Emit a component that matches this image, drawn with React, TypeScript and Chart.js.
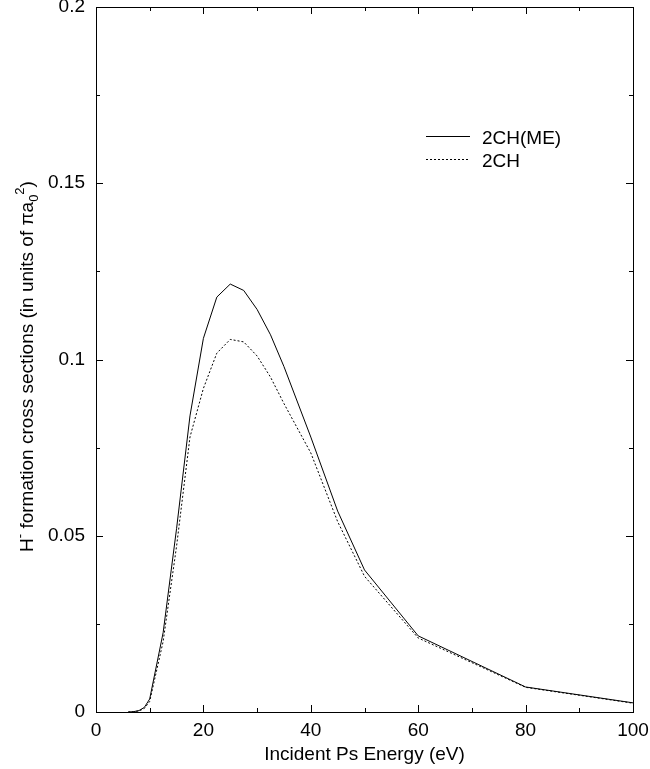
import React, { useEffect, useRef } from "react";
import { Chart, registerables } from "chart.js";

Chart.register(...registerables);

const energyME = [6, 7, 8, 9, 10, 12.5, 15, 17.5, 20, 22.5, 25, 27.5, 30, 32.5, 35, 40, 45, 50, 60, 80, 100];
const sigmaME = [0, 0.0001, 0.0004, 0.0013, 0.0037, 0.0225, 0.052, 0.084, 0.106, 0.1177, 0.1214, 0.1196, 0.1142, 0.107, 0.098, 0.078, 0.057, 0.0403, 0.0216, 0.0071, 0.0026];
const energy2CH = [6, 7, 8, 9, 10, 12.5, 15, 17.5, 20, 22.5, 25, 27.5, 30, 32.5, 35, 40, 45, 50, 60, 80, 100];
const sigma2CH = [0, 0.0001, 0.0003, 0.001, 0.003, 0.02, 0.047, 0.078, 0.0918, 0.1018, 0.1057, 0.105, 0.101, 0.095, 0.0875, 0.0735, 0.054, 0.0385, 0.021, 0.007, 0.0025];
const seriesLabels = ["2CH(ME)", "2CH"];
const xTicks = [0, 20, 40, 60, 80, 100];
const yTicks = [0, 0.05, 0.1, 0.15, 0.2];
const xTitle = "Incident Ps Energy (eV)";
// y title as segments: [text, kind] where kind: n = normal, sup = superscript, sub = subscript
const yTitleParts: [string, string][] = [
  ["H", "n"],
  ["-", "sup"],
  [" formation cross sections (in units of ", "n"],
  ["\u03C0", "n"],
  ["a", "n"],
  ["0", "sub"],
  ["2", "sup"],
  [")", "n"],
];

const FONT = "'Liberation Sans', Arial, sans-serif";
const FS = 19;

const framePlugin = {
  id: "frame",
  afterDraw(chart: any) {
    const { ctx, chartArea: a, scales } = chart;
    const xs = scales.x;
    const ys = scales.y;
    ctx.save();
    ctx.strokeStyle = "#000";
    ctx.lineWidth = 1;
    ctx.strokeRect(Math.round(a.left) + 0.5, Math.round(a.top) + 0.5, Math.round(a.right - a.left), Math.round(a.bottom - a.top));
    ctx.beginPath();
    const major = 7, minor = 4;
    for (let v = 0; v <= 100; v += 10) {
      const px = Math.round(xs.getPixelForValue(v)) + 0.5;
      const len = v % 20 === 0 ? major : minor;
      ctx.moveTo(px, a.bottom); ctx.lineTo(px, a.bottom - len);
      ctx.moveTo(px, a.top); ctx.lineTo(px, a.top + len);
    }
    for (let i = 0; i <= 8; i++) {
      const v = i * 0.025;
      const py = Math.round(ys.getPixelForValue(v)) + 0.5;
      const len = i % 2 === 0 ? major : minor;
      ctx.moveTo(a.left, py); ctx.lineTo(a.left + len, py);
      ctx.moveTo(a.right, py); ctx.lineTo(a.right - len, py);
    }
    ctx.stroke();

    ctx.fillStyle = "#000";
    // x title
    ctx.font = `${FS}px ${FONT}`;
    ctx.textAlign = "center";
    ctx.textBaseline = "alphabetic";
    ctx.fillText(xTitle, (a.left + a.right) / 2, 760);

    // y title (rotated, with sub/superscripts)
    const small = Math.round(FS * 0.68);
    const widthOf = (t: string, k: string) => {
      ctx.font = `${k === "n" ? FS : small}px ${FONT}`;
      return ctx.measureText(t).width;
    };
    const total = yTitleParts.reduce((s, [t, k]) => s + widthOf(t, k), 0);
    ctx.save();
    ctx.translate(33, (a.top + a.bottom) / 2 + 7);
    ctx.rotate(-Math.PI / 2);
    ctx.textAlign = "left";
    let cx = -total / 2;
    for (const [t, k] of yTitleParts) {
      ctx.font = `${k === "n" ? FS : small}px ${FONT}`;
      const dy = k === "sup" ? -FS * 0.45 : k === "sub" ? FS * 0.25 : 0;
      ctx.fillText(t, cx, dy);
      cx += ctx.measureText(t).width;
    }
    ctx.restore();

    // legend
    const lx0 = 426, lx1 = 470, tx = 482;
    const lineY = [136, 159];
    const textY = [144, 167];
    ctx.font = `${FS}px ${FONT}`;
    ctx.textAlign = "left";
    ctx.textBaseline = "alphabetic";
    chart.data.datasets.forEach((ds: any, i: number) => {
      ctx.beginPath();
      ctx.setLineDash(ds.borderDash || []);
      ctx.moveTo(lx0, lineY[i] + 0.5);
      ctx.lineTo(lx1, lineY[i] + 0.5);
      ctx.stroke();
      ctx.setLineDash([]);
      ctx.fillText(ds.label, tx, textY[i]);
    });
    ctx.restore();
  },
};

export default function App() {
  const ref = useRef<HTMLCanvasElement | null>(null);
  useEffect(() => {
    if (!ref.current) return;
    const chart = new Chart(ref.current, {
      type: "line",
      data: {
        datasets: [
          {
            label: seriesLabels[0],
            data: energyME.map((x, i) => ({ x, y: sigmaME[i] })),
            borderColor: "#000",
            borderWidth: 1,
            pointRadius: 0,
            tension: 0,
          },
          {
            label: seriesLabels[1],
            data: energy2CH.map((x, i) => ({ x, y: sigma2CH[i] })),
            borderColor: "#000",
            borderWidth: 1,
            borderDash: [2, 2],
            pointRadius: 0,
            tension: 0,
          },
        ],
      },
      options: {
        animation: false,
        responsive: false,
        devicePixelRatio: 1,
        layout: { padding: { top: 7, right: 17, left: 0, bottom: 0 } },
        plugins: { legend: { display: false }, tooltip: { enabled: false } },
        scales: {
          x: {
            type: "linear",
            min: 0,
            max: 100,
            afterBuildTicks: (s: any) => { s.ticks = xTicks.map((v) => ({ value: v })); },
            afterFit: (s: any) => { s.height = 57; s.paddingLeft = 0; s.paddingRight = 0; },
            grid: { display: false, drawTicks: false },
            border: { display: false },
            ticks: { color: "#000", font: { family: FONT, size: FS }, padding: 7, maxRotation: 0, callback: (v: any) => String(v) },
            title: { display: false, text: xTitle },
          },
          y: {
            type: "linear",
            min: 0,
            max: 0.2,
            afterBuildTicks: (s: any) => { s.ticks = yTicks.map((v) => ({ value: v })); },
            afterFit: (s: any) => { s.width = 96; s.paddingTop = 0; s.paddingBottom = 0; },
            grid: { display: false, drawTicks: false },
            border: { display: false },
            ticks: { color: "#000", font: { family: FONT, size: FS }, padding: 11, callback: (v: any) => String(+Number(v).toFixed(3)) },
            title: { display: false, text: yTitleParts.map((p) => p[0]).join("") },
          },
        },
      },
      plugins: [framePlugin],
    });
    return () => chart.destroy();
  }, []);
  return (
    <div style={{ position: "absolute", left: 0, top: 0, width: 650, height: 769, background: "#fff" }}>
      <canvas ref={ref} width={650} height={769} style={{ width: 650, height: 769 }} />
    </div>
  );
}
